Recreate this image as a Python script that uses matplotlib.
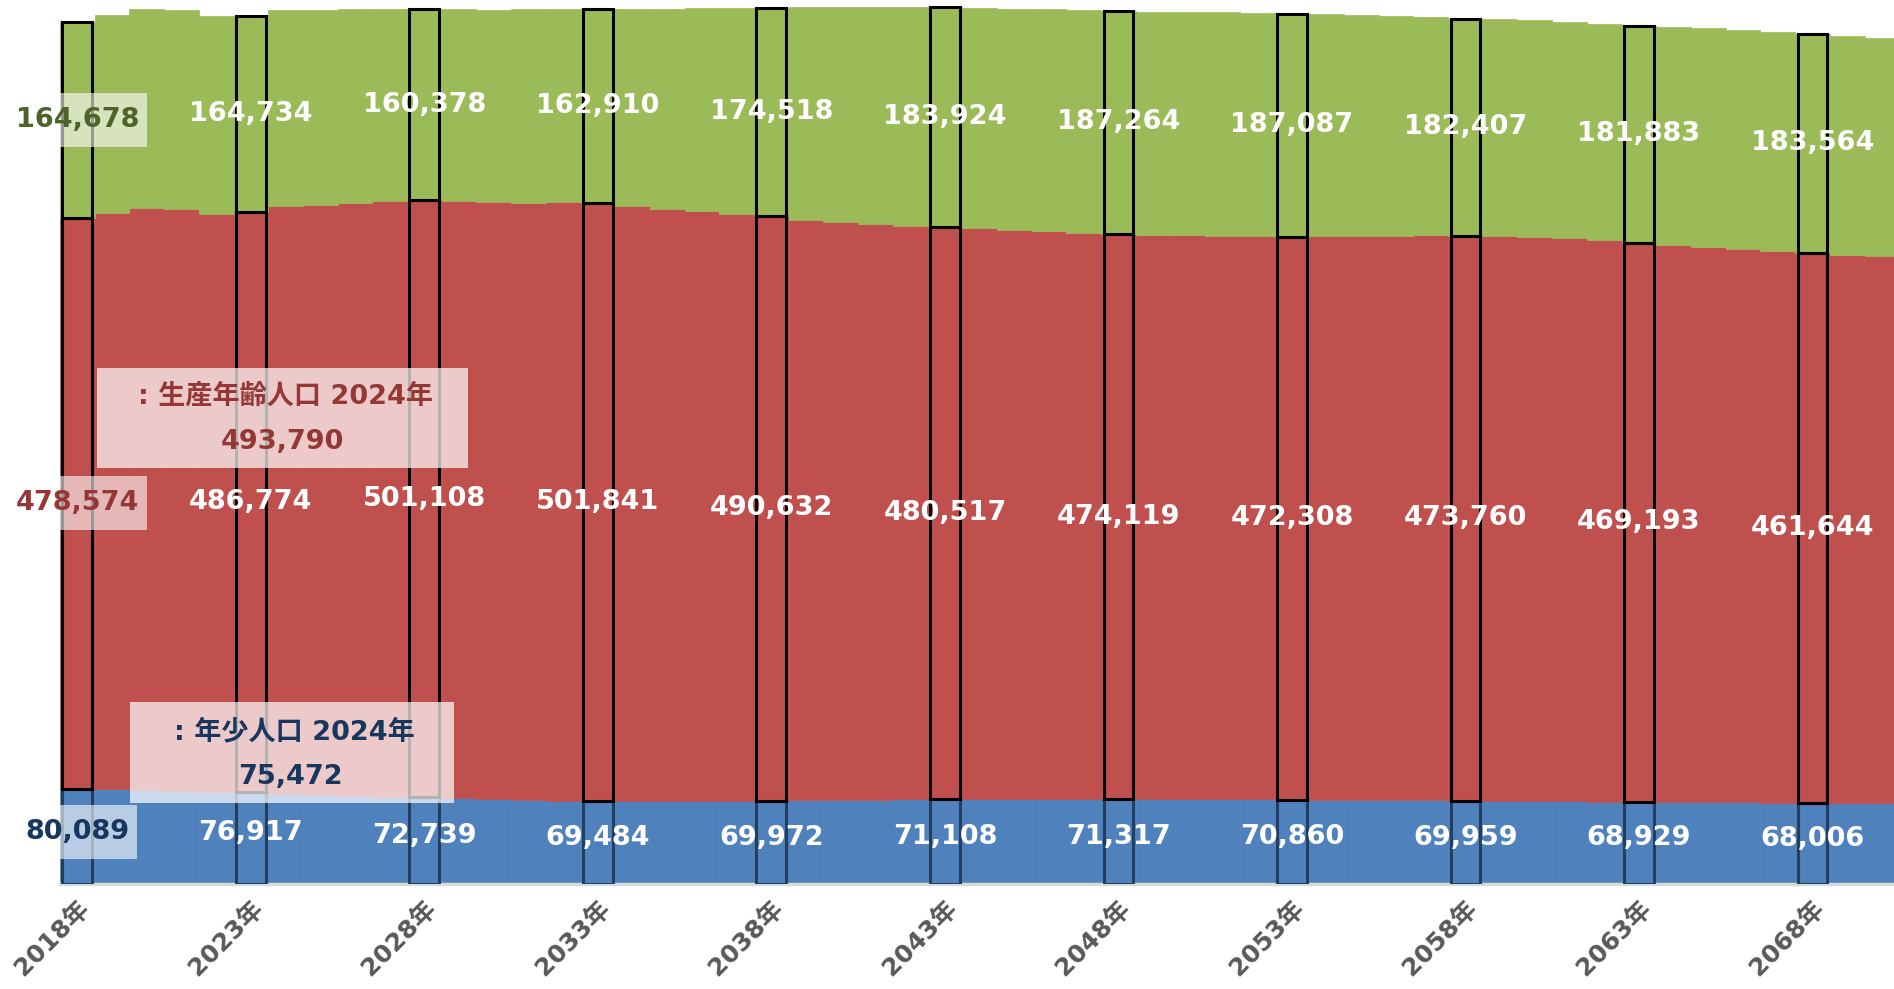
import matplotlib
matplotlib.use("Agg")
import matplotlib.pyplot as plt
from matplotlib.patches import Rectangle

plt.rcParams['font.family'] = ['DejaVu Sans', 'Noto Sans CJK JP']

years = list(range(2018, 2071))
young = [80089, 79500, 79000, 78400, 77600, 76917, 75472, 74600, 73900, 73300,
         72739, 71800, 71000, 70400, 69900, 69484, 69400, 69500, 69700, 69850,
         69972, 70300, 70600, 70800, 71000, 71108, 71200, 71300, 71350, 71350,
         71317, 71200, 71150, 71050, 70950, 70860, 70750, 70600, 70450, 70250,
         69959, 69800, 69600, 69400, 69150, 68929, 68750, 68550, 68400, 68200,
         68006, 67800, 67600]
working = [478574, 483900, 488600, 488400, 484700, 486774, 493790, 495500, 497900, 499600,
           501108, 501700, 501700, 501400, 502400, 501841, 499300, 497300, 495400, 492500,
           490632, 487200, 484700, 482800, 481200, 480517, 479000, 477500, 476400, 475000,
           474119, 473700, 473200, 472500, 472500, 472308, 472800, 473200, 473600, 474100,
           473760, 473700, 473100, 472400, 471000, 469193, 467500, 466300, 464500, 463300,
           461644, 460300, 459100]
elderly = [164678, 166100, 166900, 166600, 166400, 164734, 164200, 163300, 162200, 161000,
           160378, 160500, 161000, 162400, 162000, 162910, 165500, 167500, 169700, 173100,
           174518, 178400, 180600, 182600, 184000, 183924, 185300, 185600, 186200, 187000,
           187264, 187000, 187000, 187800, 187200, 187087, 186200, 185600, 184500, 183100,
           182407, 182200, 181900, 181600, 181900, 181883, 183300, 183300, 183800, 183800,
           183564, 183400, 183400]
highlight_years = [2018, 2023, 2028, 2033, 2038, 2043, 2048, 2053, 2058, 2063, 2068]
tick_labels = [f"{y}年" for y in highlight_years]

tip_work_title = ": 生産年齢人口 2024年"
tip_work_value = "493,790"
tip_young_title = ": 年少人口 2024年"
tip_young_value = "75,472"

C_BLUE = '#4F81BD'
C_RED = '#C0504D'
C_GREEN = '#9BBB59'
D_BLUE = '#17375E'
D_RED = '#953735'
D_GREEN = '#4F6228'

W, H = 1894, 989
fig = plt.figure(figsize=(W / 100, H / 100), dpi=100)
ax = fig.add_axes([0, 1 - 884 / H, 1, 884 / H])
ax.set_xlim(2015.77, 2070.35)
ax.set_ylim(0, 741800)
for s in ax.spines.values():
    s.set_visible(False)
ax.set_yticks([])

base_work = young
base_eld = [a + b for a, b in zip(young, working)]

# background bars
ax.bar(years, young, width=1.0, color=C_BLUE, edgecolor=C_BLUE, linewidth=0.5, zorder=1)
ax.bar(years, working, bottom=base_work, width=1.0, color=C_RED, edgecolor=C_RED, linewidth=0.5, zorder=1)
ax.bar(years, elderly, bottom=base_eld, width=1.0, color=C_GREEN, edgecolor=C_GREEN, linewidth=0.5, zorder=1)

# highlighted bars
idx = [years.index(y) for y in highlight_years]
hy = [young[i] for i in idx]
hw = [working[i] for i in idx]
he = [elderly[i] for i in idx]
hbw = [base_work[i] for i in idx]
hbe = [base_eld[i] for i in idx]
ax.bar(highlight_years, hy, width=0.86, color=C_BLUE, edgecolor='#233E5E', linewidth=2.2, zorder=3)
ax.bar(highlight_years, hw, bottom=hbw, width=0.86, color=C_RED, edgecolor='black', linewidth=2.2, zorder=3)
ax.bar(highlight_years, he, bottom=hbe, width=0.86, color=C_GREEN, edgecolor='black', linewidth=2.2, zorder=3)

# baseline
ax.plot([2017.5, 2071], [0, 0], color='#D9D9D9', lw=2.5, zorder=2, clip_on=False)

# value labels
fs = 19.5
for k, y in enumerate(highlight_years):
    i = idx[k]
    yb = young[i] / 2 + 4000
    yr = base_work[i] + working[i] / 2
    yg = base_eld[i] + elderly[i] / 2
    if y == 2018:
        cols = (D_BLUE, D_RED, D_GREEN)
    else:
        cols = ('white', 'white', 'white')
    for val, yy, c in zip((young[i], working[i], elderly[i]), (yb, yr, yg), cols):
        ax.text(y, yy, f"{val:,}", ha='center', va='center', color=c,
                fontsize=fs, fontweight='bold', zorder=6)

# translucent boxes behind 2018 labels (clipped at the bar's left edge)
ypx = 884 / 741800
for yy, half_w in ((base_eld[0] + elderly[0] / 2, 2.52),
                   (base_work[0] + working[0] / 2, 2.52),
                   (young[0] / 2 + 4000, 2.22)):
    ax.add_patch(Rectangle((2017.5, yy - 27 / ypx), half_w, 54 / ypx,
                           facecolor='white', alpha=0.6, edgecolor='none', zorder=5))

# x tick labels
ax.set_xticks(highlight_years)
ax.set_xticklabels(tick_labels, rotation=45, ha='right', rotation_mode='anchor',
                   fontsize=18, fontweight='bold', color='#595959')
ax.tick_params(axis='x', length=0, pad=9)

# tooltip boxes (positions in figure pixels)
def fx(x):
    return x / W

def fy(y):
    return 1 - y / H

fig.patches.append(Rectangle((fx(97), fy(468)), (468 - 97) / W, (468 - 368) / H,
                             transform=fig.transFigure, facecolor='white', alpha=0.7,
                             edgecolor='none', zorder=10))
fig.text(fx(285), fy(397), tip_work_title, ha='center', va='center', color=D_RED,
         fontsize=fs, fontweight='bold', zorder=11)
fig.text(fx(282), fy(442), tip_work_value, ha='center', va='center', color=D_RED,
         fontsize=fs, fontweight='bold', zorder=11)

fig.patches.append(Rectangle((fx(130), fy(803)), (454 - 130) / W, (803 - 702) / H,
                             transform=fig.transFigure, facecolor='white', alpha=0.7,
                             edgecolor='none', zorder=10))
fig.text(fx(294), fy(732), tip_young_title, ha='center', va='center', color=D_BLUE,
         fontsize=fs, fontweight='bold', zorder=11)
fig.text(fx(290), fy(777), tip_young_value, ha='center', va='center', color=D_BLUE,
         fontsize=fs, fontweight='bold', zorder=11)

fig.savefig('out.png', dpi=100)
